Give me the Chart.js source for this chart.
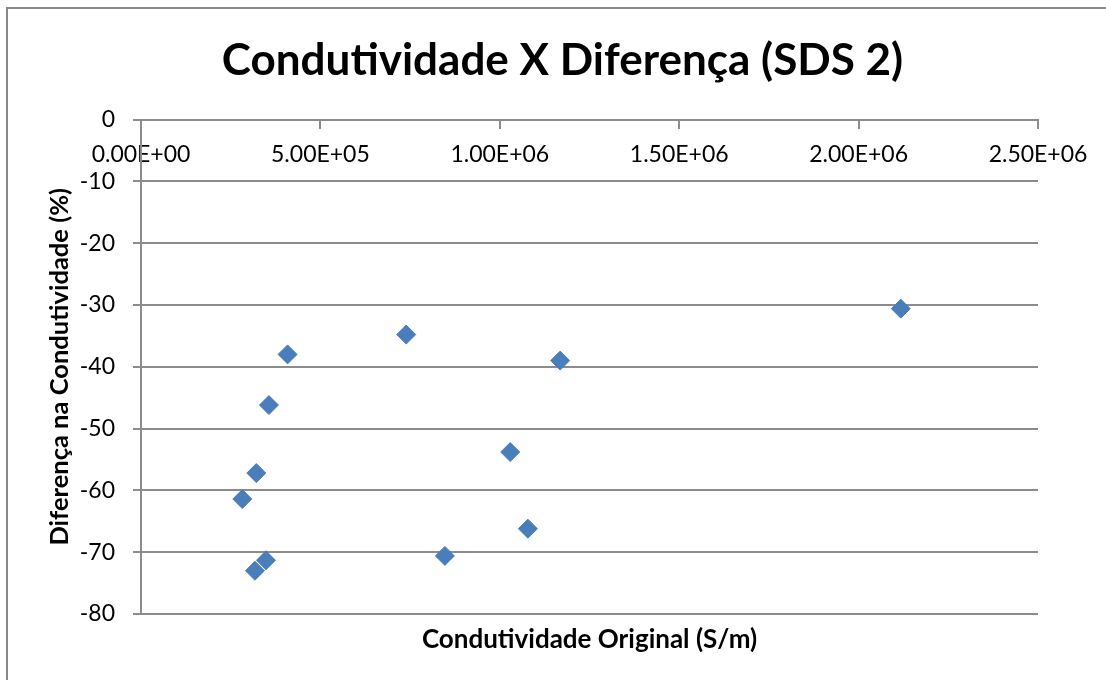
<!DOCTYPE html>
<html><head><meta charset="utf-8">
<script src="https://cdn.jsdelivr.net/npm/chart.js@4"></script>
<style>
html,body{margin:0;padding:0;background:#fff;overflow:hidden}
#wrap{position:relative;width:1106px;height:680px;overflow:hidden}
#frame{position:absolute;left:6px;top:7px;width:1200px;height:800px;border:2px solid #898989;box-sizing:border-box}
canvas{position:absolute;left:0;top:0}
</style></head><body>
<div id="wrap"><div id="frame"></div><canvas id="c" width="1106" height="680"></canvas></div>
<script>
const chartTitle = 'Condutividade X Diferença (SDS 2)';
const xTitle = 'Condutividade Original (S/m)';
const yTitle = 'Diferença na Condutividade (%)';
const conductivity = [408500, 356600, 321300, 282300, 348300, 317600, 739200, 1168300, 1029000, 1078300, 847000, 2117600];
const difference   = [-38.0, -46.2, -57.2, -61.4, -71.3, -73.0, -34.8, -39.0, -53.8, -66.2, -70.6, -30.6];
const xRange = [0, 2500000, 500000];
const yRange = [-80, 0, 10];

const FONT = 'Lato, "Open Sans", "DejaVu Sans", sans-serif';
const GRID = '#8c8c8c';

function sci(v) {
  if (v === 0) return '0.00E+00';
  const e = Math.floor(Math.log10(Math.abs(v)));
  const m = v / Math.pow(10, e);
  return m.toFixed(2) + 'E' + (e < 0 ? '-' : '+') + String(Math.abs(e)).padStart(2, '0');
}

const points = conductivity.map((x, i) => ({x: x, y: difference[i]}));

new Chart(document.getElementById('c'), {
  type: 'scatter',
  data: {
    datasets: [{
      data: points,
      pointStyle: 'rectRot',
      pointRadius: 9.5,
      backgroundColor: '#4a7ebb',
      borderColor: '#4a7ebb',
      borderWidth: 1
    }]
  },
  options: {
    responsive: false,
    animation: false,
    layout: {padding: {left: 19, right: 0, top: 0, bottom: 0}},
    plugins: {
      legend: {display: false},
      tooltip: {enabled: false},
      title: {
        display: true, text: chartTitle, color: '#000',
        font: {family: FONT, size: 44, weight: 'bold'},
        padding: {top: 34.6, bottom: 32.1}
      },
      subtitle: {
        display: true, text: xTitle, position: 'bottom', fullSize: false, color: '#000',
        font: {family: FONT, size: 26, weight: 'bold'},
        padding: {top: 10.4, bottom: 24.4}
      }
    },
    scales: {
      x: {
        type: 'linear', position: {y: 0},
        min: xRange[0], max: xRange[1],
        ticks: {stepSize: xRange[2], callback: v => sci(v), color: '#000',
                font: {family: FONT, size: 23}, padding: 13.5, maxRotation: 0},
        grid: {drawOnChartArea: false, drawTicks: true, tickLength: 8, color: GRID, lineWidth: 2},
        border: {display: true, color: GRID, width: 2}
      },
      y: {
        type: 'linear', position: 'left',
        min: yRange[0], max: yRange[1],
        ticks: {stepSize: yRange[2], color: '#000', font: {family: FONT, size: 23}, padding: 18},
        grid: {color: GRID, lineWidth: 2, tickLength: 8},
        border: {display: true, color: GRID, width: 2},
        title: {display: true, text: yTitle, color: '#000',
                font: {family: FONT, size: 25.5, weight: 'bold'}, padding: {top: 25.7, bottom: 0}},
        afterFit: s => { s.width = 122; }
      },
      yPad: {
        type: 'linear', position: 'right', display: true,
        grid: {display: false}, ticks: {display: false}, border: {display: false},
        afterFit: s => { s.width = 68; }
      }
    }
  }
});
</script>
</body></html>
